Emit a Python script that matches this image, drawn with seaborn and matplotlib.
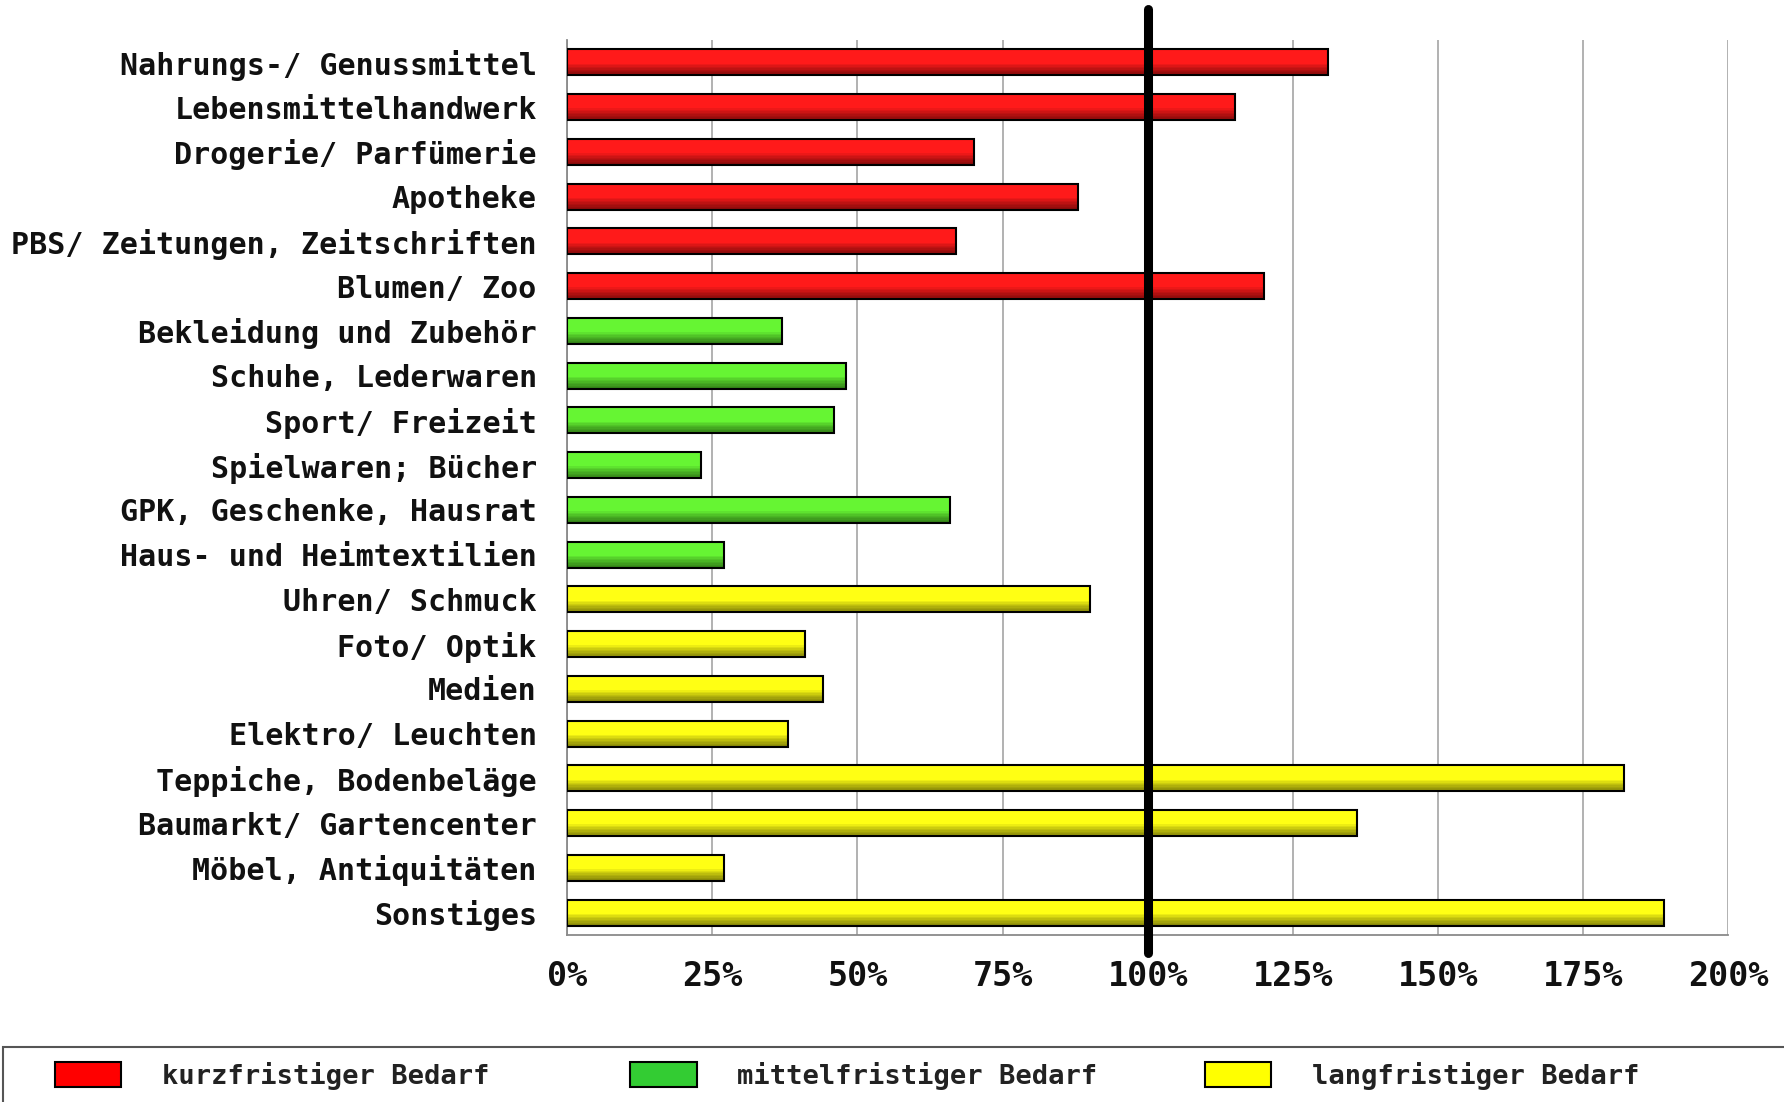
import numpy as np
import pandas as pd
import matplotlib
matplotlib.use("Agg")
import matplotlib.pyplot as plt
import matplotlib.patches as mpatches
import seaborn as sns

# data
categories = ["Nahrungs-/ Genussmittel", "Lebensmittelhandwerk", "Drogerie/ Parfümerie",
              "Apotheke", "PBS/ Zeitungen, Zeitschriften", "Blumen/ Zoo",
              "Bekleidung und Zubehör", "Schuhe, Lederwaren", "Sport/ Freizeit",
              "Spielwaren; Bücher", "GPK, Geschenke, Hausrat", "Haus- und Heimtextilien",
              "Uhren/ Schmuck", "Foto/ Optik", "Medien", "Elektro/ Leuchten",
              "Teppiche, Bodenbeläge", "Baumarkt/ Gartencenter", "Möbel, Antiquitäten",
              "Sonstiges"]
values = [131, 115, 70, 88, 67, 120,
          37, 48, 46, 23, 66, 27,
          90, 41, 44, 38, 182, 136, 27, 189]
groups = (["kurzfristiger Bedarf"] * 6 + ["mittelfristiger Bedarf"] * 6
          + ["langfristiger Bedarf"] * 8)
group_names = ["kurzfristiger Bedarf", "mittelfristiger Bedarf", "langfristiger Bedarf"]
bar_colors = ["#ff1a1a", "#66f533", "#ffff14"]
legend_colors = ["#ff0000", "#33cc33", "#ffff00"]
x_ticks = [0, 25, 50, 75, 100, 125, 150, 175, 200]
reference_value = 100

df = pd.DataFrame({"category": categories, "value": values, "group": groups})

sns.set_style("white")
plt.rcParams["font.family"] = ["DejaVu Sans Mono", "DejaVu Sans"]

fig = plt.figure(figsize=(17.84, 11.02), dpi=100)
ax = fig.add_axes([0.318, 0.1516, 0.6506, 0.8121])

bar_h = 0.58
sns.barplot(data=df, y="category", x="value", hue="group", hue_order=group_names,
            palette=dict(zip(group_names, bar_colors)), saturation=1, dodge=False,
            width=bar_h, linewidth=0, legend=False, ax=ax, zorder=2)

# darker shading towards the lower edge of each bar (3D look)
ypos = np.arange(len(categories))
steps = 8
for k in range(steps):
    h = 0.45 * bar_h * (1 - k / steps)
    ax.barh(ypos + bar_h / 2 - h / 2, values, height=h, color="black",
            alpha=0.07, linewidth=0, zorder=3)
ax.barh(ypos, values, height=bar_h, fill=False, edgecolor="black", linewidth=1.5, zorder=4)

ax.set_xlim(0, 200)
ax.set_ylim(len(categories) - 0.5, -0.5)
ax.set_xticks(x_ticks)
ax.set_xticklabels([f"{t}%" for t in x_ticks])
ax.set_yticks(ypos)
ax.set_yticklabels(categories)
ax.set_yticks(np.arange(len(categories) + 1) - 0.5, minor=True)
ax.set_xlabel("")
ax.set_ylabel("")

ax.grid(axis="x", color="#9c9c9c", linewidth=1.1, zorder=0)
ax.grid(axis="y", visible=False)
ax.set_axisbelow(True)

for side in ["top", "right"]:
    ax.spines[side].set_visible(False)
for side in ["left", "bottom"]:
    ax.spines[side].set_color("#8a8a8a")
    ax.spines[side].set_linewidth(1.3)

ax.tick_params(axis="y", which="major", length=0, pad=22, labelsize=21.6, labelcolor="#111111")
ax.tick_params(axis="y", which="minor", length=6, width=1.3, color="#8a8a8a", direction="out")
ax.tick_params(axis="x", which="major", length=6, width=1.3, color="#8a8a8a", direction="out",
               pad=12, labelsize=24, labelcolor="#111111")
for lab in ax.get_xticklabels() + ax.get_yticklabels():
    lab.set_fontweight("bold")

# 100 % reference line reaching past the plot area
ax.axvline(reference_value, ymin=-0.02, ymax=1.035, color="black", linewidth=6.5,
           clip_on=False, zorder=6)

# legend entries at fixed column positions, frame running off the figure edge
legend_x = [0.0306, 0.3533, 0.6754]
for name, col, lx in zip(group_names, legend_colors, legend_x):
    handle = mpatches.Patch(facecolor=col, edgecolor="black", linewidth=1.5)
    leg = fig.legend([handle], [name], loc="center left", bbox_to_anchor=(lx, 0.0236),
                     frameon=False, borderpad=0, borderaxespad=0,
                     handlelength=2.45, handleheight=1.05, handletextpad=1.5,
                     prop={"family": "DejaVu Sans Mono", "weight": "bold", "size": 19.5})
    for t in leg.get_texts():
        t.set_color("#222222")
fig.patches.append(mpatches.Rectangle((0.0015, -0.2), 1.5, 0.2499, transform=fig.transFigure,
                                      fill=False, edgecolor="#555555", linewidth=1.5))

fig.savefig("out.png", dpi=100)
